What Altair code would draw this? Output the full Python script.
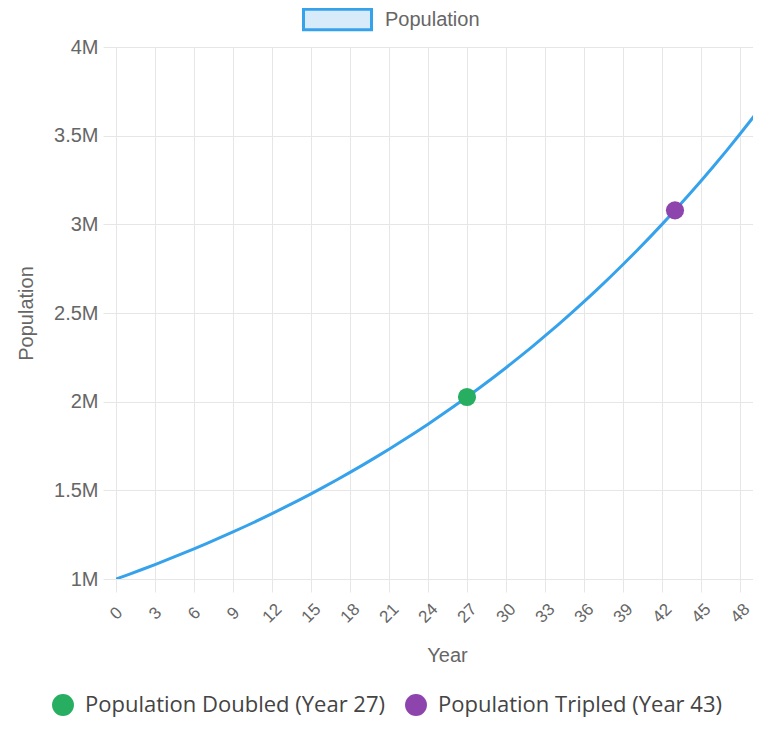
import altair as alt
import pandas as pd

# ---- data ----
years = list(range(0, 51))
population_millions = [
    1.000, 1.0265, 1.0537, 1.0816, 1.1103, 1.1397, 1.1699, 1.2009, 1.2327, 1.2654,
    1.2989, 1.3333, 1.3687, 1.4049, 1.4422, 1.4804, 1.5196, 1.5599, 1.6012, 1.6436,
    1.6872, 1.7319, 1.7778, 1.8249, 1.8733, 1.9229, 1.9739, 2.0262, 2.0799, 2.1350,
    2.1916, 2.2497, 2.3093, 2.3705, 2.4333, 2.4978, 2.5640, 2.6319, 2.7017, 2.7733,
    2.8468, 2.9222, 2.9996, 3.0791, 3.1607, 3.2445, 3.3305, 3.4187, 3.5093, 3.6023,
    3.6978,
]
series_name = ["Population"]
milestone_years = [27, 43]
milestone_values_millions = [2.0262, 3.0791]
milestone_labels = ["Population Doubled (Year 27)", "Population Tripled (Year 43)"]
milestone_colors = ["#27ae60", "#8e44ad"]
x_tick_values = list(range(0, 49, 3))
y_tick_values = [1000000, 1500000, 2000000, 2500000, 3000000, 3500000, 4000000]

line_df = pd.DataFrame({
    "Year": years,
    "Population": [v * 1_000_000 for v in population_millions],
    "Series": series_name * len(years),
})
pts_df = pd.DataFrame({
    "Year": milestone_years,
    "Population": [v * 1_000_000 for v in milestone_values_millions],
    "Milestone": milestone_labels,
})

AX_FONT = "Liberation Sans"
GRID = "#e6e6e6"

x_enc = alt.X(
    "Year:Q",
    scale=alt.Scale(domain=[0, 49.0], nice=False, zero=False),
    axis=alt.Axis(
        values=x_tick_values, tickCount=40, title="Year", labelAngle=315,
        labelAlign="center", labelBaseline="middle", labelPadding=21,
        tickSize=13, labelFontSize=17, labelOverlap=False, labelFlush=False,
        titleX=331, titleY=76, titleBaseline="middle", titleAlign="center",
    ),
)
y_enc = alt.Y(
    "Population:Q",
    scale=alt.Scale(domain=[1000000, 4000000], nice=False, zero=False),
    axis=alt.Axis(
        values=y_tick_values, tickCount=20,
        labelExpr="datum.value / 1000000 + 'M'",
        title="Population", tickSize=13, labelPadding=5, labelFontSize=20,
        titleAngle=270, titleX=-90, titleY=266, titleAlign="center",
        titleBaseline="middle",
    ),
)

line = alt.Chart(line_df).mark_line(
    clip=True, strokeWidth=3, interpolate="monotone"
).encode(
    x=x_enc,
    y=y_enc,
    stroke=alt.Stroke(
        "Series:N",
        scale=alt.Scale(domain=series_name, range=["#36a2eb"]),
        legend=alt.Legend(
            title=None, orient="none", legendX=186, legendY=-63,
            symbolType="M-1,-0.3L1,-0.3L1,0.3L-1,0.3Z", symbolSize=4624,
            symbolFillColor="#d7ebfa", symbolStrokeColor="#36a2eb",
            symbolStrokeWidth=3, labelFontSize=20, labelColor="#666666",
            labelFont=AX_FONT, labelOffset=12, labelLimit=0,
        ),
    ),
)

points = alt.Chart(pts_df).mark_circle(size=330, opacity=1).encode(
    x="Year:Q",
    y="Population:Q",
    color=alt.Color(
        "Milestone:N",
        scale=alt.Scale(domain=milestone_labels, range=milestone_colors),
        legend=alt.Legend(
            title=None, orient="none", direction="horizontal", legendX=-64,
            legendY=647, symbolType="circle", symbolSize=480, symbolOpacity=1,
            symbolStrokeWidth=0, labelFontSize=22, labelFont="Open Sans",
            labelColor="#444444", labelOffset=11, columnPadding=20,
            labelLimit=0,
        ),
    ),
)

chart = alt.layer(line, points).properties(
    width=637, height=532, autosize="none",
    padding={"left": 108, "top": 39, "right": 0, "bottom": 141},
).configure_view(strokeWidth=0).configure_axis(
    gridColor=GRID, domainColor=GRID, tickColor=GRID, labelColor="#666666",
    titleColor="#666666", labelFont=AX_FONT, titleFont=AX_FONT,
    titleFontSize=20, titleFontWeight="normal",
)

chart.save("out.html", embed_options={"renderer": "svg", "actions": False})
